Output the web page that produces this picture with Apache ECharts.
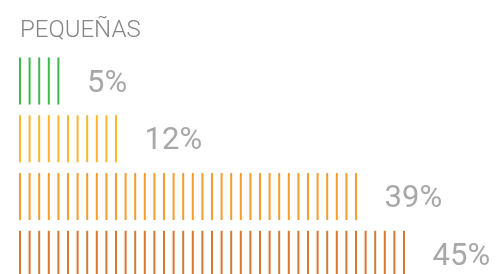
<!DOCTYPE html>
<html>
<head>
<meta charset="utf-8">
<script src="https://cdn.jsdelivr.net/npm/echarts@6/dist/echarts.min.js"></script>
<style>
html,body{margin:0;padding:0;background:#fff;}
#c{width:504px;height:274px;}
</style>
</head>
<body>
<div id="c"></div>
<script>
const title = 'PEQUEÑAS';
const categories = ['a', 'b', 'c', 'd'];
const values = [5, 12, 39, 45];
const colors = ['#3fba4a', '#fbb630', '#f69c30', '#d9782f'];

const chart = echarts.init(document.getElementById('c'), null, {renderer: 'canvas'});
chart.setOption({
  animation: false,
  title: {
    text: title,
    left: 15,
    top: 14,
    textStyle: {fontFamily: 'Roboto', fontWeight: 300, fontSize: 24, color: '#858585'}
  },
  grid: {left: 19, right: 51, top: 52, height: 231, outerBoundsMode: 'none', containLabel: false},
  xAxis: {type: 'value', min: 0, max: 50, show: false},
  yAxis: {type: 'category', data: categories, inverse: true, show: false},
  series: [{
    type: 'pictorialBar',
    symbol: 'rect',
    symbolRepeat: true,
    symbolClip: true,
    symbolSize: [2, 47],
    symbolMargin: 3.85,
    symbolOffset: [0, 0],
    data: values.map((v, i) => ({value: v, itemStyle: {color: colors[i]}})),
    label: {
      show: true,
      position: 'right',
      distance: 18,
      offset: [0, 3],
      formatter: '{c}%',
      fontFamily: 'Roboto',
      fontWeight: 400,
      fontSize: 31,
      color: '#a8a8a8'
    }
  }]
});
</script>
</body>
</html>
